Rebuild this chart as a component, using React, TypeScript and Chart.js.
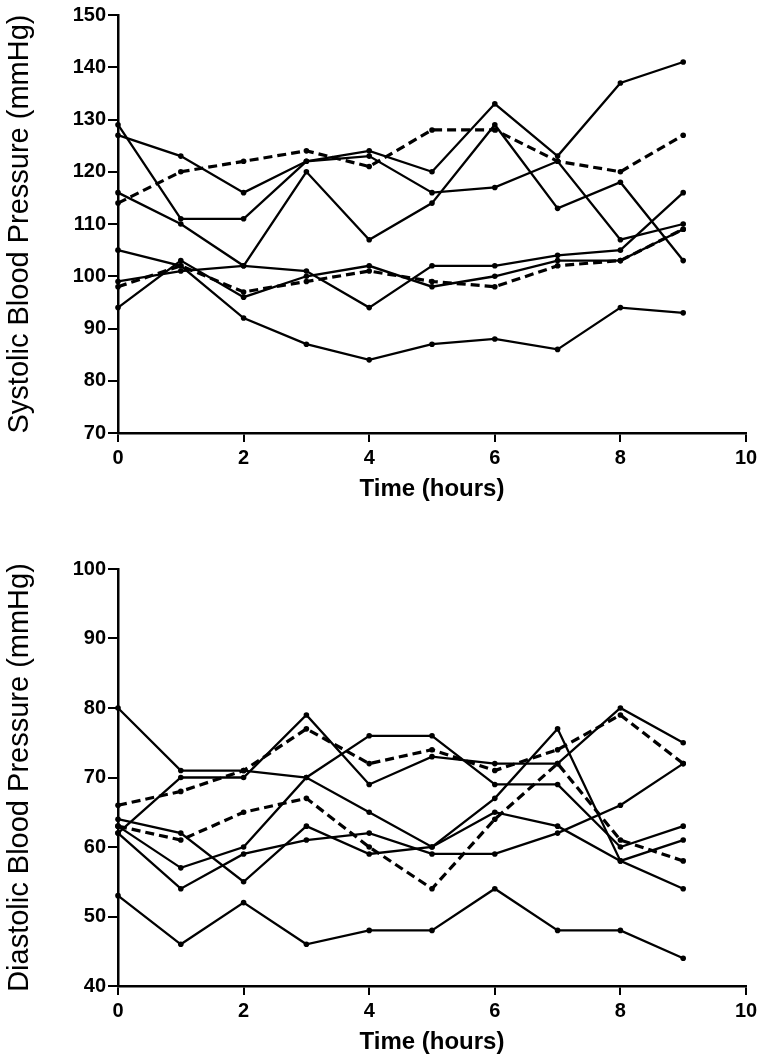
import React, { useEffect, useRef } from "react";
import { Chart, registerables } from "chart.js";

Chart.register(...registerables);

// ---------- data ----------
const HOURS = [0, 1, 2, 3, 4, 5, 6, 7, 8, 9];
const X_TICKS = [0, 2, 4, 6, 8, 10];

// Systolic (solid subjects)
const SYS_A = [129, 111, 111, 122, 124, 120, 133, 123, 137, 141];
const SYS_B = [127, 123, 116, 122, 123, 116, 117, 122, 107, 110];
const SYS_C = [116, 110, 102, 120, 107, 114, 129, 113, 118, 103];
const SYS_D = [99, 101, 102, 101, 94, 102, 102, 104, 105, 116];
const SYS_E = [94, 103, 96, 100, 102, 98, 100, 103, 103, 109];
const SYS_F = [105, 102, 92, 87, 84, 87, 88, 86, 94, 93];
// Systolic (dashed subjects)
const SYS_DASH_A = [114, 120, 122, 124, 121, 128, 128, 122, 120, 127];
const SYS_DASH_B = [98, 102, 97, 99, 101, 99, 98, 102, 103, 109];

// Diastolic (solid subjects)
const DIA_A = [80, 71, 71, 70, 65, 60, 67, 77, 58, 54];
const DIA_B = [62, 70, 70, 79, 69, 73, 72, 72, 80, 75];
const DIA_C = [64, 62, 55, 63, 59, 60, 65, 63, 58, 61];
const DIA_D = [63, 57, 60, 70, 76, 76, 69, 69, 60, 63];
const DIA_E = [62, 54, 59, 61, 62, 59, 59, 62, 66, 72];
const DIA_F = [53, 46, 52, 46, 48, 48, 54, 48, 48, 44];
// Diastolic (dashed subjects)
const DIA_DASH_A = [66, 68, 71, 77, 72, 74, 71, 74, 79, 72];
const DIA_DASH_B = [63, 61, 65, 67, 60, 54, 64, 72, 61, 58];

const SYS_TICKS = [70, 80, 90, 100, 110, 120, 130, 140, 150];
const DIA_TICKS = [40, 50, 60, 70, 80, 90, 100];

const SYS_TITLE = "Systolic Blood Pressure (mmHg)";
const DIA_TITLE = "Diastolic Blood Pressure (mmHg)";
const X_TITLE = "Time (hours)";

// ---------- chart ----------
const FONT = "'Liberation Sans', Arial, Helvetica, sans-serif";

type Series = { values: number[]; dashed: boolean };

type Opts = {
  series: Series[];
  yTicks: number[];
  yTitle: string;
  padTop: number;
  xAxisHeight: number;
  xTitlePad: number;
};

function buildChart(canvas: HTMLCanvasElement, o: Opts) {
  const datasets = o.series.map((s) => ({
    data: HOURS.map((h, i) => ({ x: h, y: s.values[i] })),
    borderColor: "#000",
    backgroundColor: "#000",
    borderWidth: s.dashed ? 3.2 : 2.3,
    borderDash: s.dashed ? [9, 5] : [],
    pointRadius: 2.8,
    pointHoverRadius: 2.8,
    pointBorderWidth: 0,
    pointBackgroundColor: "#000",
    tension: 0,
    fill: false,
    clip: false as any,
  }));
  const yMin = o.yTicks[0];
  const yMax = o.yTicks[o.yTicks.length - 1];
  return new Chart(canvas, {
    type: "line",
    data: { datasets },
    options: {
      responsive: false,
      animation: false,
      devicePixelRatio: 1,
      events: [],
      layout: { padding: { top: o.padTop, right: 18, left: 0, bottom: 0 } },
      plugins: { legend: { display: false }, tooltip: { enabled: false } },
      scales: {
        x: {
          type: "linear",
          min: X_TICKS[0],
          max: X_TICKS[X_TICKS.length - 1],
          afterBuildTicks: (s: any) => {
            s.ticks = X_TICKS.map((v) => ({ value: v }));
          },
          ticks: {
            color: "#000",
            font: { family: FONT, size: 20, weight: "bold" },
            padding: 4,
            maxRotation: 0,
            autoSkip: false,
          },
          grid: {
            display: true,
            drawOnChartArea: false,
            drawTicks: true,
            tickLength: 9,
            color: "#000",
            lineWidth: 2,
          },
          border: { display: true, color: "#000", width: 2.5 },
          title: {
            display: true,
            text: X_TITLE,
            color: "#000",
            font: { family: FONT, size: 24, weight: "bold" },
            padding: { top: 0, bottom: o.xTitlePad },
          },
          afterFit: (s: any) => {
            s.height = o.xAxisHeight;
          },
        },
        y: {
          type: "linear",
          min: yMin,
          max: yMax,
          afterBuildTicks: (s: any) => {
            s.ticks = o.yTicks.map((v) => ({ value: v }));
          },
          ticks: {
            color: "#000",
            font: { family: FONT, size: 20, weight: "bold" },
            padding: 2,
            autoSkip: false,
          },
          grid: {
            display: true,
            drawOnChartArea: false,
            drawTicks: true,
            tickLength: 10,
            color: "#000",
            lineWidth: 2,
          },
          border: { display: true, color: "#000", width: 2.5 },
          title: {
            display: true,
            text: o.yTitle,
            color: "#000",
            font: { family: FONT, size: 29, weight: "normal" },
            padding: { top: 3, bottom: 0 },
          },
          afterFit: (s: any) => {
            s.width = 118;
          },
        },
      },
    } as any,
  });
}

export default function App() {
  const topRef = useRef<HTMLCanvasElement>(null);
  const botRef = useRef<HTMLCanvasElement>(null);

  useEffect(() => {
    const c1 = buildChart(topRef.current!, {
      series: [
        { values: SYS_A, dashed: false },
        { values: SYS_B, dashed: false },
        { values: SYS_C, dashed: false },
        { values: SYS_D, dashed: false },
        { values: SYS_E, dashed: false },
        { values: SYS_F, dashed: false },
        { values: SYS_DASH_A, dashed: true },
        { values: SYS_DASH_B, dashed: true },
      ],
      yTicks: SYS_TICKS,
      yTitle: SYS_TITLE,
      padTop: 15,
      xAxisHeight: 87,
      xTitlePad: 16,
    });
    const c2 = buildChart(botRef.current!, {
      series: [
        { values: DIA_A, dashed: false },
        { values: DIA_B, dashed: false },
        { values: DIA_C, dashed: false },
        { values: DIA_D, dashed: false },
        { values: DIA_E, dashed: false },
        { values: DIA_F, dashed: false },
        { values: DIA_DASH_A, dashed: true },
        { values: DIA_DASH_B, dashed: true },
      ],
      yTicks: DIA_TICKS,
      yTitle: DIA_TITLE,
      padTop: 49,
      xAxisHeight: 78,
      xTitlePad: 7,
    });
    return () => {
      c1.destroy();
      c2.destroy();
    };
  }, []);

  return (
    <div
      style={{
        position: "absolute",
        left: 0,
        top: 0,
        width: 764,
        height: 1064,
        background: "#fff",
        overflow: "hidden",
      }}
    >
      <canvas
        ref={topRef}
        width={764}
        height={520}
        style={{ position: "absolute", left: 0, top: 0, width: 764, height: 520 }}
      />
      <canvas
        ref={botRef}
        width={764}
        height={544}
        style={{ position: "absolute", left: 0, top: 520, width: 764, height: 544 }}
      />
    </div>
  );
}
